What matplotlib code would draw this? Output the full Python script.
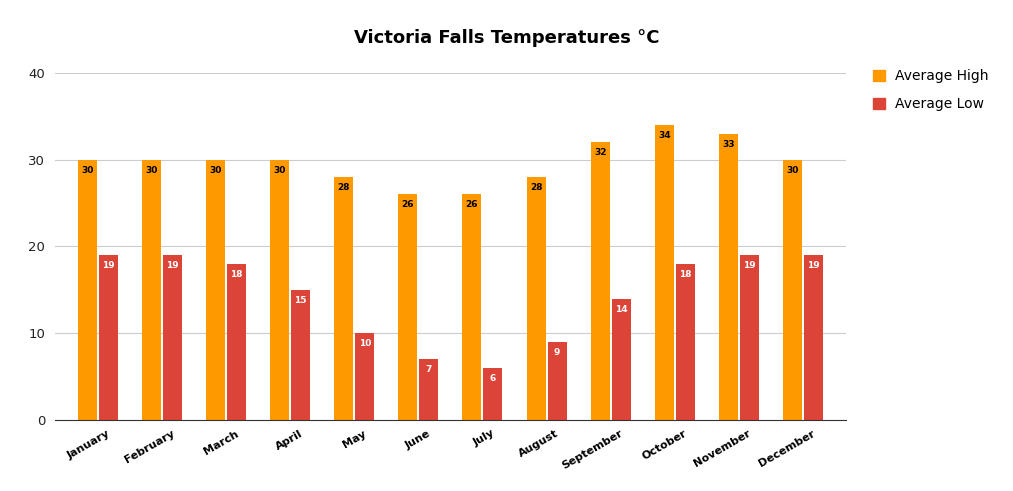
import numpy as np
import matplotlib
matplotlib.use("Agg")
import matplotlib.pyplot as plt
import matplotlib.transforms as mtransforms
from matplotlib.patches import Patch

months = ["January", "February", "March", "April", "May", "June", "July",
          "August", "September", "October", "November", "December"]
avg_high = [30, 30, 30, 30, 28, 26, 26, 28, 32, 34, 33, 30]
avg_low = [19, 19, 18, 15, 10, 7, 6, 9, 14, 18, 19, 19]

c_high = "#FF9900"
c_low = "#DC4437"

plt.rcParams["font.family"] = ["DejaVu Sans"]
fig = plt.figure(figsize=(10.13, 4.91), dpi=100)
ax = fig.add_axes([0.0543, 0.1446, 0.7807, 0.7068])

x = np.arange(len(months))
w = 0.296
off = 0.164
bh = ax.bar(x - off, avg_high, w, color=c_high, zorder=3)
bl = ax.bar(x + off, avg_low, w, color=c_low, zorder=3)

for rect, v in zip(bh, avg_high):
    ax.text(rect.get_x() + rect.get_width() / 2, v - 0.7, str(v), ha="center", va="top",
            fontsize=6.5, fontweight="bold", color="black", zorder=4)
for rect, v in zip(bl, avg_low):
    ax.text(rect.get_x() + rect.get_width() / 2, v - 0.7, str(v), ha="center", va="top",
            fontsize=6.5, fontweight="bold", color="white", zorder=4)

ax.set_xlim(-0.67, 11.67)
ax.set_ylim(0, 40)
ax.set_yticks([0, 10, 20, 30, 40])
ax.yaxis.grid(True, color="#CCCCCC", linewidth=0.8, zorder=0)
ax.tick_params(axis="y", length=0, labelsize=9.5, pad=7, colors="#222222")
ax.tick_params(axis="x", length=0, pad=6)
ax.set_xticks(x)
ax.set_xticklabels(months, rotation=30, ha="right", rotation_mode="anchor",
                   fontsize=8, fontweight="bold")
shift = mtransforms.ScaledTranslation(9 / 100, 0, fig.dpi_scale_trans)
for lbl in ax.get_xticklabels():
    lbl.set_transform(lbl.get_transform() + shift)
for s in ["top", "right", "left"]:
    ax.spines[s].set_visible(False)
ax.spines["bottom"].set_color("#333333")
ax.spines["bottom"].set_zorder(5)

fig.text(0.5, 0.922, "Victoria Falls Temperatures °C", ha="center", va="center",
         fontsize=13, fontweight="bold")

handles = [Patch(color=c_high, label="Average High"), Patch(color=c_low, label="Average Low")]
fig.legend(handles=handles, loc="upper left", bbox_to_anchor=(0.849, 0.884), frameon=False,
           fontsize=10, handlelength=0.9, handleheight=0.9, handletextpad=0.7, labelspacing=1.0)

fig.savefig("out.png", dpi=100, facecolor="white")
